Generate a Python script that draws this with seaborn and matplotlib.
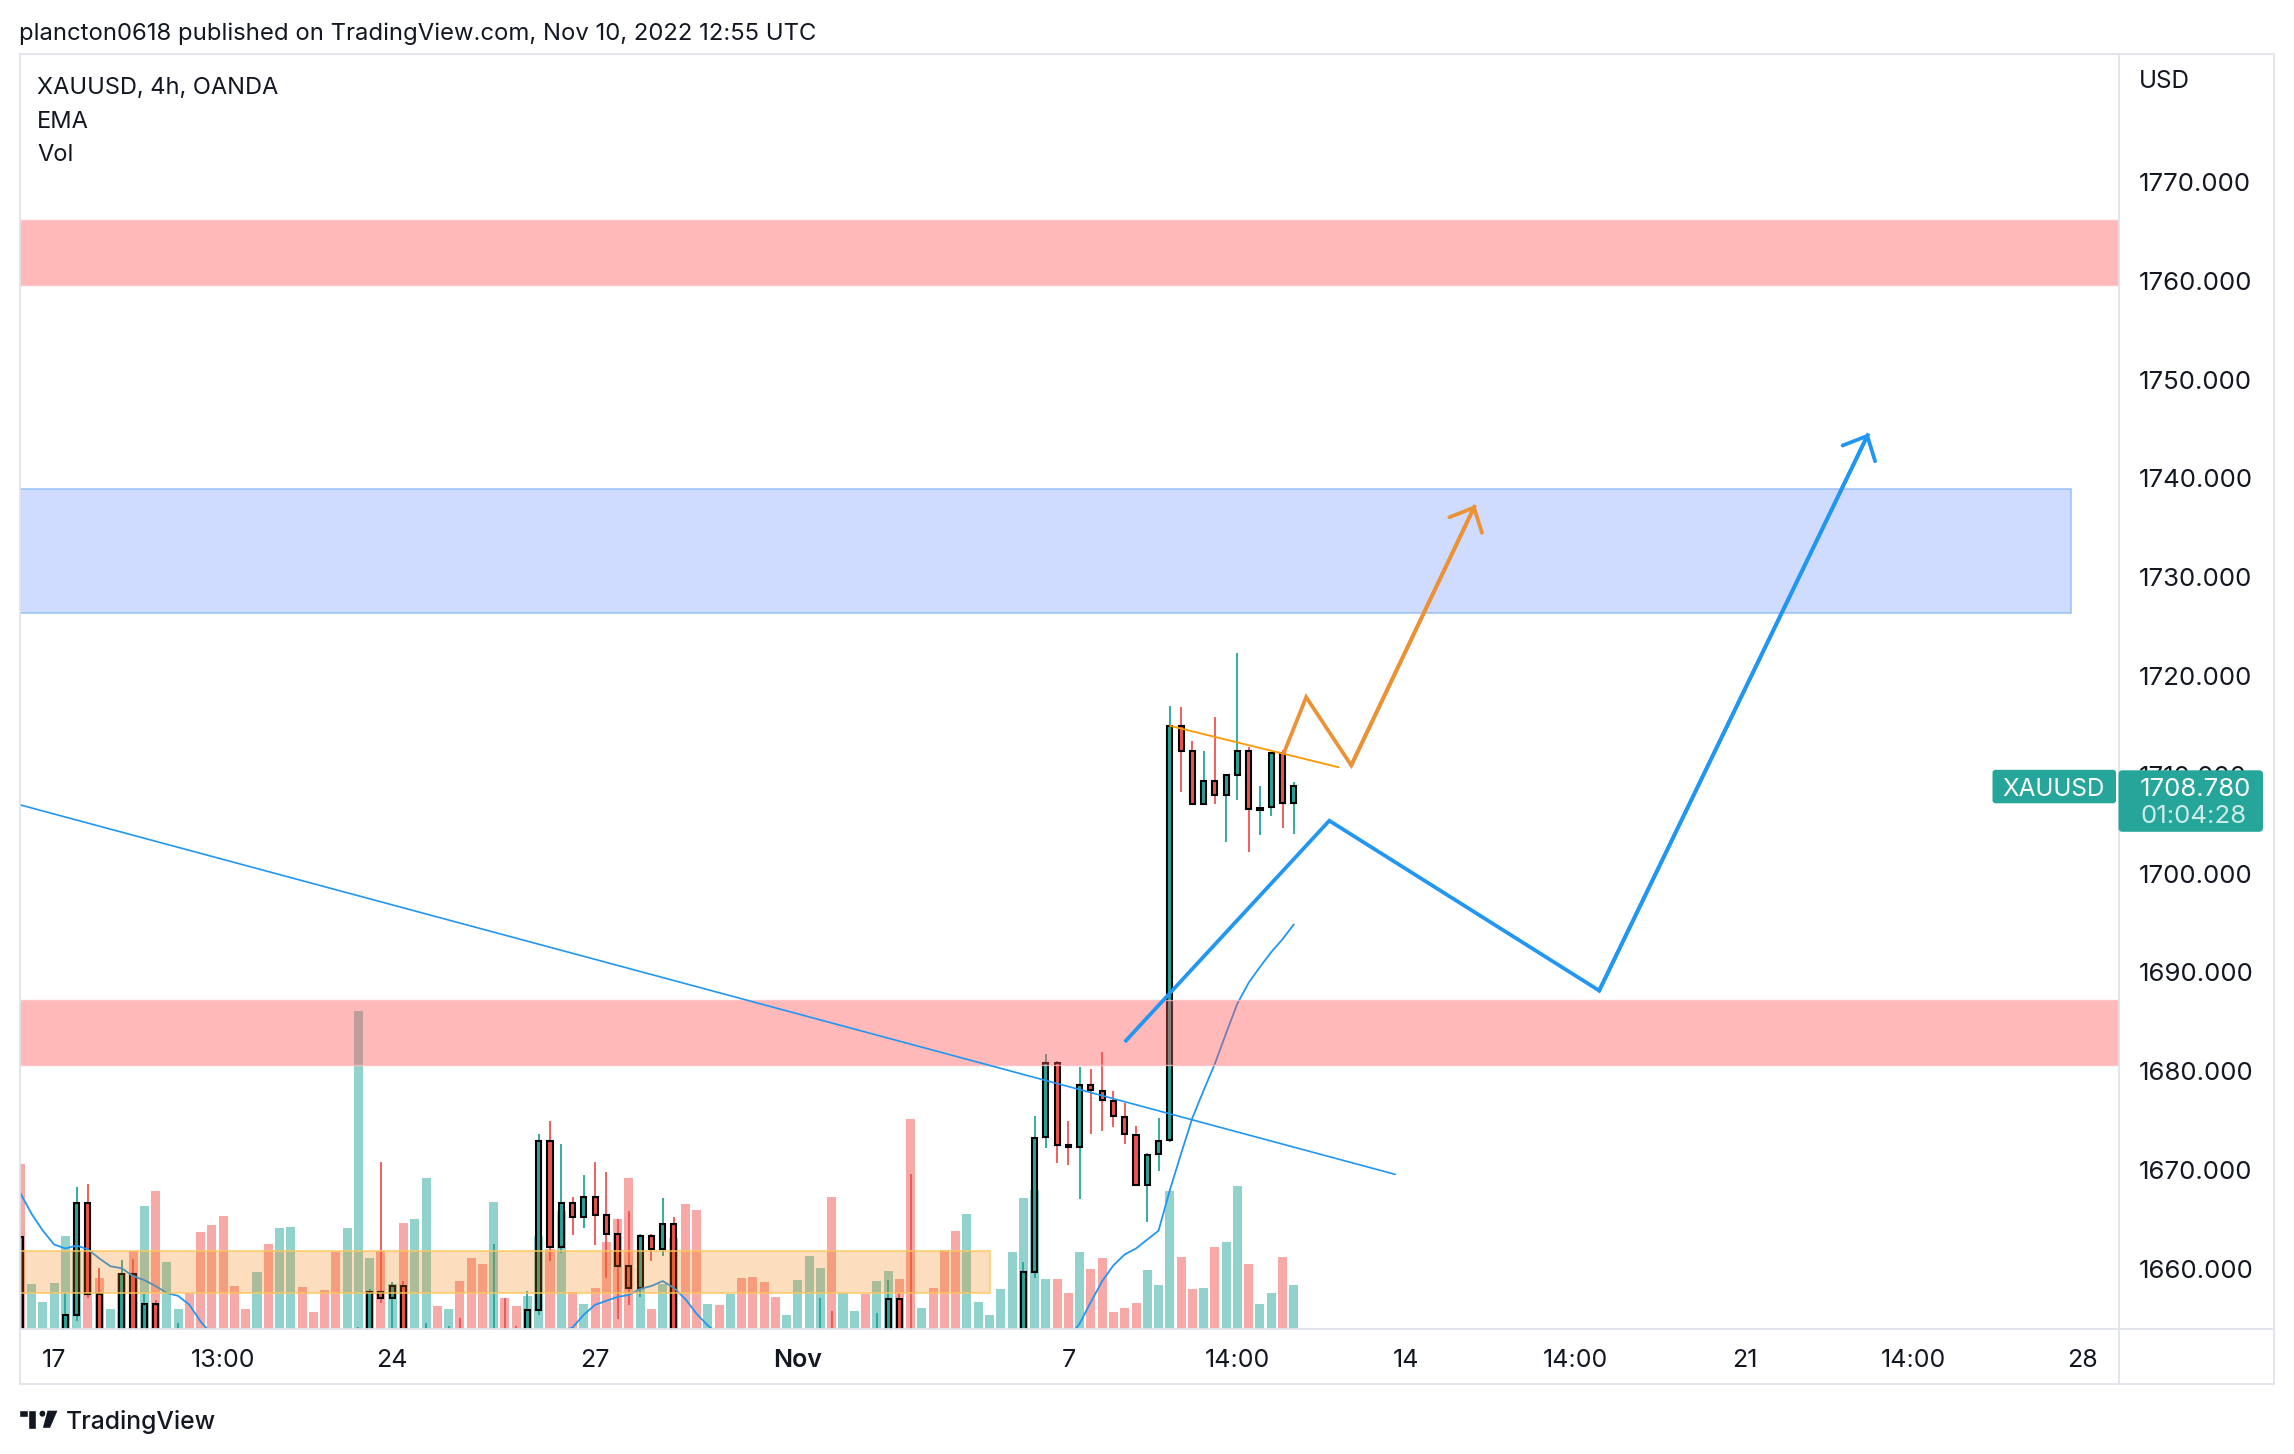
import matplotlib
matplotlib.use("Agg")
import matplotlib.pyplot as plt
from matplotlib.patches import Rectangle, FancyBboxPatch, Circle, Polygon
from matplotlib.lines import Line2D
from matplotlib.transforms import IdentityTransform
import numpy as np
import pandas as pd
import seaborn as sns

sns.set_theme(style="white")
plt.rcParams["font.family"] = ["Inter", "DejaVu Sans"]

W, H = 2294, 1454

# ---- 4h bars, index 0 = first bar of Oct 17 (6 bars per trading day) ----
bar_idx = list(range(-3, 111))

opens = [1663.2, 1646.0, 1648.5, 1650.0, 1651.5, 1655.3, 1666.6, 1657.4, 1651.0, 1652.0,
         1659.4, 1650.0, 1656.4, 1646.5, 1650.0, 1652.0, 1646.0, 1640.0, 1634.0, 1630.5,
         1628.5, 1627.5, 1631.5, 1627.0, 1632.5, 1636.0, 1632.5, 1631.5, 1628.0, 1619.5,
         1631.0, 1650.0, 1657.6, 1657.0, 1658.2, 1649.5, 1652.0, 1653.0, 1648.5, 1651.0,
         1646.0, 1639.5, 1636.0, 1651.5, 1647.0, 1645.0, 1655.8, 1672.9, 1662.1, 1666.6,
         1665.2, 1667.2, 1665.4, 1663.5, 1660.2, 1658.0, 1663.3, 1661.9, 1664.5, 1646.0,
         1639.0, 1634.0, 1636.5, 1634.5, 1637.5, 1633.5, 1630.5, 1628.0, 1626.5, 1628.0,
         1633.5, 1640.0, 1648.0, 1642.0, 1644.5, 1645.5, 1642.5, 1650.0, 1656.9, 1648.5,
         1631.0, 1634.0, 1629.0, 1620.5, 1616.0, 1628.0, 1630.5, 1632.0, 1638.5, 1650.5,
         1659.6, 1673.3, 1680.8, 1672.5, 1672.3, 1678.5, 1677.9, 1676.9, 1675.3, 1673.5,
         1668.4, 1671.6, 1673.0, 1714.9, 1712.4, 1707.0, 1709.3, 1707.9, 1709.9, 1712.4,
         1706.4, 1706.7, 1712.1, 1707.1]
highs = [1664.0, 1650.0, 1651.0, 1652.5, 1657.5, 1668.2, 1668.5, 1660.0, 1653.0, 1660.8,
         1660.9, 1657.4, 1656.8, 1651.0, 1654.5, 1653.0, 1647.0, 1641.5, 1636.0, 1632.0,
         1630.0, 1633.0, 1633.0, 1634.0, 1638.0, 1637.0, 1633.5, 1632.5, 1629.0, 1633.0,
         1654.1, 1657.9, 1670.8, 1658.6, 1658.7, 1653.0, 1654.5, 1653.5, 1654.2, 1655.0,
         1647.5, 1641.0, 1662.5, 1657.0, 1654.2, 1657.7, 1673.6, 1674.9, 1672.6, 1667.2,
         1669.4, 1670.8, 1669.7, 1665.0, 1665.8, 1663.5, 1663.5, 1667.1, 1665.2, 1648.0,
         1641.0, 1638.0, 1637.5, 1639.0, 1638.5, 1634.5, 1632.0, 1629.5, 1629.0, 1635.0,
         1642.0, 1657.0, 1655.7, 1646.0, 1647.0, 1646.5, 1655.5, 1658.8, 1657.5, 1669.5,
         1636.0, 1635.0, 1630.0, 1622.0, 1630.0, 1632.0, 1633.0, 1640.0, 1652.0, 1660.6,
         1675.4, 1681.7, 1681.0, 1674.9, 1680.4, 1680.2, 1681.9, 1677.9, 1676.7, 1674.4,
         1671.7, 1675.2, 1716.9, 1716.8, 1713.4, 1712.4, 1715.8, 1710.0, 1722.3, 1712.8,
         1708.8, 1712.2, 1712.5, 1709.2]
lows = [1648.0, 1644.5, 1647.0, 1648.5, 1650.5, 1654.7, 1657.0, 1649.0, 1648.5, 1651.0,
        1648.0, 1649.0, 1645.0, 1645.5, 1649.0, 1645.0, 1638.0, 1632.0, 1628.0, 1627.0,
        1626.0, 1626.5, 1625.5, 1626.0, 1631.0, 1631.0, 1630.0, 1627.0, 1617.0, 1618.0,
        1630.0, 1648.5, 1656.5, 1652.0, 1648.0, 1647.5, 1650.5, 1647.0, 1647.5, 1645.0,
        1638.0, 1634.0, 1635.0, 1645.0, 1643.0, 1644.0, 1655.3, 1660.7, 1661.5, 1663.4,
        1664.1, 1662.4, 1659.0, 1654.9, 1656.3, 1657.1, 1660.7, 1661.2, 1644.0, 1637.0,
        1632.0, 1633.0, 1633.0, 1633.5, 1632.0, 1629.0, 1626.0, 1625.0, 1626.0, 1627.0,
        1632.5, 1639.0, 1640.0, 1641.0, 1643.5, 1641.0, 1641.5, 1649.0, 1647.0, 1628.0,
        1629.5, 1627.0, 1618.0, 1614.0, 1615.0, 1627.0, 1629.5, 1631.0, 1637.5, 1649.0,
        1659.0, 1672.2, 1670.7, 1670.4, 1667.0, 1673.6, 1673.9, 1674.3, 1672.6, 1668.4,
        1664.7, 1669.8, 1672.8, 1708.2, 1707.0, 1707.0, 1707.0, 1703.1, 1707.4, 1702.1,
        1703.8, 1705.8, 1704.6, 1704.0]
closes = [1650.5, 1648.5, 1650.0, 1651.5, 1655.3, 1666.6, 1657.4, 1651.0, 1652.0, 1659.4,
          1650.0, 1656.4, 1646.5, 1650.0, 1652.0, 1646.0, 1640.0, 1634.0, 1630.5, 1628.5,
          1627.5, 1631.5, 1627.0, 1632.5, 1636.0, 1632.5, 1631.5, 1628.0, 1619.5, 1631.0,
          1650.0, 1657.6, 1657.0, 1658.2, 1649.5, 1652.0, 1653.0, 1648.5, 1651.0, 1646.0,
          1639.5, 1636.0, 1651.5, 1647.0, 1645.0, 1655.8, 1672.9, 1662.1, 1666.6, 1665.2,
          1667.2, 1665.4, 1663.5, 1660.2, 1658.0, 1663.3, 1661.9, 1664.5, 1646.0, 1639.0,
          1634.0, 1636.5, 1634.5, 1637.5, 1633.5, 1630.5, 1628.0, 1626.5, 1628.0, 1633.5,
          1640.0, 1648.0, 1642.0, 1644.5, 1645.5, 1642.5, 1650.0, 1656.9, 1648.5, 1631.0,
          1634.0, 1629.0, 1620.5, 1616.0, 1628.0, 1630.5, 1632.0, 1638.5, 1650.5, 1659.6,
          1673.2, 1680.8, 1672.5, 1672.3, 1678.5, 1678.0, 1677.0, 1675.4, 1673.6, 1668.4,
          1671.5, 1672.9, 1714.9, 1712.4, 1707.0, 1709.3, 1707.9, 1709.9, 1712.4, 1706.5,
          1706.6, 1712.1, 1707.1, 1708.78]
volumes = [165, 45, 27, 46, 93, 78, 78, 51, 20, 56,
           78, 123, 138, 67, 20, 36, 97, 104, 113, 43,
           20, 57, 85, 101, 102, 42, 17, 39, 77, 101,
           318, 71, 78, 45, 106, 110, 151, 23, 20, 48,
           71, 65, 127, 31, 23, 33, 93, 80, 118, 37,
           25, 41, 87, 110, 151, 40, 20, 45, 91, 125,
           119, 25, 24, 35, 51, 52, 47, 32, 14, 49,
           73, 61, 132, 36, 18, 35, 48, 58, 50, 210,
           21, 41, 79, 98, 115, 27, 14, 40, 77, 131,
           139, 50, 50, 36, 77, 60, 71, 17, 21, 26,
           59, 44, 138, 72, 40, 41, 82, 87, 143, 65,
           25, 36, 72, 44]
ema = [1667.6, 1665.5, 1663.8, 1662.4, 1662.0, 1662.3, 1661.9, 1661.0, 1660.2, 1660.0,
       1659.2, 1658.8, 1658.2, 1657.5, 1657.2, 1656.3, 1654.6, 1653.3, 1652.6, 1651.8,
       1651.0, 1650.2, 1649.6, 1649.0, 1648.6, 1648.2, 1647.8, 1647.6, 1647.5, 1647.6,
       1647.8, 1648.1, 1648.4, 1648.7, 1649.0, 1649.3, 1649.6, 1649.9, 1650.2, 1650.5,
       1650.8, 1651.1, 1651.4, 1651.7, 1652.0, 1652.3, 1652.9, 1653.3, 1653.6, 1654.0,
       1655.3, 1656.3, 1656.7, 1657.1, 1657.3, 1657.9, 1658.2, 1658.7, 1658.0, 1656.9,
       1655.4, 1654.2, 1653.3, 1652.7, 1652.1, 1651.5, 1650.9, 1650.3, 1649.7, 1649.0,
       1648.3, 1647.6, 1646.9, 1646.2, 1645.6, 1645.0, 1644.5, 1644.0, 1643.6, 1643.2,
       1642.8, 1642.4, 1642.1, 1641.8, 1641.6, 1641.4, 1641.3, 1641.6, 1642.5, 1644.0,
       1646.4, 1649.2, 1651.4, 1652.9, 1654.4, 1656.6, 1658.7, 1660.3, 1661.4, 1662.0,
       1662.9, 1663.8, 1667.9, 1671.6, 1675.2, 1678.0, 1680.7, 1683.8, 1686.8, 1688.9,
       1690.5, 1692.0, 1693.3, 1694.8]

price_ticks = [1660, 1670, 1680, 1690, 1700, 1710, 1720, 1730, 1740, 1750, 1760, 1770]
time_tick_pos = [0, 15, 30, 48, 66, 90, 105, 120, 135, 150, 165, 180]
time_tick_lbl = ["17", "13:00", "24", "27", "Nov", "7", "14:00", "14", "14:00", "21", "14:00", "28"]

# ---- drawings (bar index, price) ----
supply_top = (1759.5, 1766.1)
demand_red = (1680.6, 1687.15)
blue_zone = (1726.3, 1738.9, 179.0)
orange_zone = (1657.5, 1661.7, 83.05)
trend_x, trend_y = [-4.0, 119.0], [1707.2, 1669.5]
flag_x, flag_y = [99.0, 114.0], [1714.9, 1710.7]
orange_path_x = [109.1, 111.1, 115.1, 126.1]
orange_path_y = [1712.1, 1717.8, 1710.9, 1737.25]
blue_path_x = [95.0, 113.15, 137.1, 161.0]
blue_path_y = [1682.9, 1705.3, 1688.1, 1744.5]

TEAL, RED = "#26A69A", "#EF5350"
VOL_UP, VOL_DN = "#92D2CC", "#F7A9A7"
INK, FRAME = "#131722", "#E0E3EB"
BLUE, ORANGE = "#2196F3", "#EB9236"

df = pd.DataFrame({"bar": bar_idx, "open": opens, "high": highs, "low": lows,
                   "close": closes, "volume": volumes, "ema": ema})
df["dir"] = np.where(df["close"] >= df["open"], "up", "down")

fig = plt.figure(figsize=(W / 100, H / 100), dpi=100)
fig.patch.set_facecolor("white")

x0, x1, ytop, ybot = 20, 2118.7, 54, 1329
rect = [x0 / W, 1 - ybot / H, (x1 - x0) / W, (ybot - ytop) / H]
ax_vol = fig.add_axes(rect, zorder=0)
ax = fig.add_axes(rect, zorder=1)
ax.patch.set_alpha(0)

XLIM = (-3.03, 183.2)
YLIM = (1653.85, 1782.9)

# volume
sns.barplot(data=df, x="bar", y="volume", hue="dir", palette={"up": VOL_UP, "down": VOL_DN},
            native_scale=True, dodge=False, width=0.8, saturation=1, errorbar=None,
            legend=False, orient="x", ax=ax_vol, linewidth=0)
ax_vol.set_xlim(*XLIM)
ax_vol.set_ylim(0, ybot - ytop)
ax_vol.axis("off")

# candles
wick_col = [TEAL if d == "up" else RED for d in df["dir"]]
ax.vlines(df["bar"], df["low"], df["high"], colors=wick_col, linewidth=1.3, zorder=2)
body_lo = df[["open", "close"]].min(axis=1)
body_h = (df["close"] - df["open"]).abs()
ax.bar(df["bar"], body_h, bottom=body_lo, width=0.45, color=wick_col,
       edgecolor="black", linewidth=1.5, zorder=3)

# EMA
sns.lineplot(x=df["bar"], y=df["ema"], ax=ax, color=BLUE, linewidth=1.3,
             estimator=None, sort=False, zorder=4)

# zones
ax.axhspan(*supply_top, facecolor=(1, 0.32, 0.32, 0.4), edgecolor=(1, 0.75, 0.77, 0.8),
           linewidth=1, zorder=5)
ax.axhspan(*demand_red, facecolor=(1, 0.32, 0.32, 0.4), edgecolor=(1, 0.75, 0.77, 0.8),
           linewidth=1, zorder=5)
ax.add_patch(Rectangle((-10, blue_zone[0]), blue_zone[2] + 10, blue_zone[1] - blue_zone[0],
                       facecolor=(0.16, 0.38, 1.0, 0.22), edgecolor=(0.55, 0.72, 0.95, 0.8),
                       linewidth=1.2, zorder=5))
ax.add_patch(Rectangle((-10, orange_zone[0]), orange_zone[2] + 10, orange_zone[1] - orange_zone[0],
                       facecolor=(0.96, 0.49, 0.0, 0.25), edgecolor=(1.0, 0.78, 0.35, 0.7),
                       linewidth=1.5, zorder=5))

# lines
ax.plot(trend_x, trend_y, color=BLUE, linewidth=1.2, zorder=6)
ax.plot(flag_x, flag_y, color="#FF9800", linewidth=1.3, zorder=6)
ax.plot(orange_path_x, orange_path_y, color=ORANGE, linewidth=2.7, zorder=6,
        solid_joinstyle="miter", solid_capstyle="butt")
ax.plot(blue_path_x, blue_path_y, color=BLUE, linewidth=2.7, zorder=6,
        solid_joinstyle="miter", solid_capstyle="butt")
for px_, py_, c in [(orange_path_x, orange_path_y, ORANGE), (blue_path_x, blue_path_y, BLUE)]:
    ax.annotate("", xy=(px_[-1], py_[-1]), xytext=(px_[-2], py_[-2]),
                arrowprops=dict(arrowstyle="->,head_length=0.7,head_width=0.65", color=c,
                                lw=2.7, shrinkA=0, shrinkB=0, mutation_scale=20),
                zorder=6)

ax.set_xlim(*XLIM)
ax.set_ylim(*YLIM)
ax.axis("off")

# ---- frame, scales, labels (pixel coordinates) ----
PX = IdentityTransform()


def line(xa, ya, xb, yb):
    fig.add_artist(Line2D([xa, xb], [H - ya, H - yb], color=FRAME, linewidth=1.3, transform=PX))


def put(x, y, s, **kw):
    # y is measured from the top; +3 px compensates for descender space in va="center"
    kw.setdefault("color", INK)
    kw.setdefault("fontsize", 17)
    kw.setdefault("va", "center")
    fig.text(x, H - y - 3, s, transform=PX, **kw)


line(20, 54, 2274, 54)
line(20, 1384, 2274, 1384)
line(20, 54, 20, 1384)
line(2274, 54, 2274, 1384)
line(x1, 54, x1, 1384)
line(20, 1329, 2274, 1329)

put(19, 31, "plancton0618 published on TradingView.com, Nov 10, 2022 12:55 UTC", fontsize=17.2)
put(37, 85, "XAUUSD, 4h, OANDA")
put(37, 118.5, "EMA")
put(37, 152, "Vol")
put(2139, 79, "USD", fontsize=17.5)

fig.canvas.draw()
to_px_y = lambda p: H - ax.transData.transform((0, p))[1]
to_px_x = lambda b: ax.transData.transform((b, 0))[0]

for p in price_ticks:
    put(2139, to_px_y(p), f"{p:.3f}", fontsize=18.6)

for b, lbl in zip(time_tick_pos, time_tick_lbl):
    put(to_px_x(b), 1357.5, lbl, ha="center", fontsize=18,
        fontweight="semibold" if lbl == "Nov" else "normal")

# last price tag
ly = to_px_y(closes[-1])
fig.add_artist(FancyBboxPatch((2118.5, H - (ly + 45.5)), 144.5, 61.5,
                              boxstyle="round,pad=0,rounding_size=4", facecolor=TEAL,
                              edgecolor="none", transform=PX, zorder=10))
fig.add_artist(FancyBboxPatch((1992.5, H - (ly + 17)), 123.5, 33.5,
                              boxstyle="round,pad=0,rounding_size=3", facecolor=TEAL,
                              edgecolor="none", transform=PX, zorder=10))
put(2140, ly, f"{closes[-1]:.3f}", color="white", fontsize=18.6, zorder=11)
put(2140, ly + 27.5, "01:04:28", color="#CDEBE7", fontsize=18.6, zorder=11)
put(2054, ly, "XAUUSD", color="white", ha="center", fontsize=17.5, zorder=11)

# footer logo + wordmark
fig.add_artist(Rectangle((19, H - 1417), 17.5, 7, facecolor=INK, transform=PX))
fig.add_artist(Rectangle((27.5, H - 1428.5), 8.5, 18.5, facecolor=INK, transform=PX))
fig.add_artist(Circle((42.5, H - 1413.7), 3.7, facecolor=INK, transform=PX))
fig.add_artist(Polygon([(47, H - 1410), (58.5, H - 1410), (50.5, H - 1428.5), (42, H - 1428.5)],
                       closed=True, facecolor=INK, transform=PX))
put(66, 1419, "TradingView", fontsize=17.8, fontweight="medium")

fig.savefig("out.png", dpi=100, facecolor="white")
